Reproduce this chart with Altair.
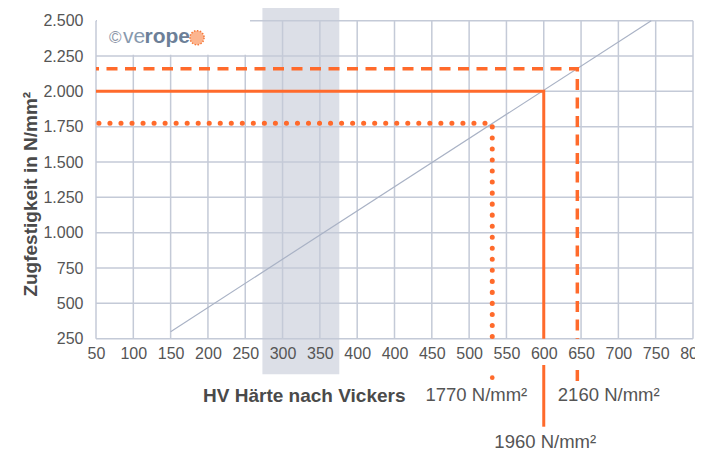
import altair as alt
import pandas as pd

# ---------------- data ----------------
# x axis positions (one step per gridline) and the labels printed under them
x_tick_pos = [50, 100, 150, 200, 250, 300, 350, 400, 450, 500, 550, 600, 650, 700, 750, 800, 850]
x_tick_labels = ["50", "100", "150", "200", "250", "300", "350", "400", "400",
                 "450", "500", "550", "600", "650", "700", "750", "800"]
y_ticks = [250, 500, 750, 1000, 1250, 1500, 1750, 2000, 2250, 2500]

# shaded hardness band (axis positions)
band_from = [273]
band_to = [376]

# conversion line HV -> tensile strength
diag_x = [150, 794]
diag_y = [300, 2500]

# rope grades
grade_names = ["1770 N/mm²", "1960 N/mm²", "2160 N/mm²"]
grade_strength = [1775, 2000, 2160]
grade_hv_pos = [581, 650, 695]

x_min, x_max = 50, 850
y_min, y_max = 250, 2500

# ---------------- styles ----------------
W, H = 597, 318
ORANGE = "#ff6a2b"
GRID = "#c4cad7"
BAND = "#dcdfe7"
DIAG = "#a9b2c5"
FONT = "Liberation Sans"

xs = alt.Scale(domain=[x_min, x_max], nice=False, zero=False)
ys = alt.Scale(domain=[y_min, y_max], nice=False, zero=False)

labels_js = "[" + ",".join("'%s'" % s for s in x_tick_labels) + "]"
x_axis = alt.Axis(
    values=x_tick_pos,
    labelExpr=f"{labels_js}[round(datum.value / 50) - 1]",
    grid=False, domain=False, ticks=False, tickSize=0,
    labelPadding=7, labelFontSize=16, labelColor="#555555", labelFont=FONT,
    labelFlush=False, labelOverlap=False,
    title="HV Härte nach Vickers", titleFont=FONT, titleFontSize=19,
    titleFontWeight="bold", titleColor="#4a4a4a",
    titleX=309, titleY=57, titleAlign="right", titleBaseline="middle",
    zindex=1,
)
y_axis = alt.Axis(
    values=y_ticks,
    labelExpr="replace(format(datum.value, ','), ',', '.')",
    grid=False, domain=False, ticks=False, tickSize=0,
    labelPadding=13, labelFontSize=16, labelColor="#555555", labelFont=FONT,
    labelFlush=False, labelOverlap=False,
    title="Zugfestigkeit in N/mm²", titleFont=FONT, titleFontSize=19,
    titleFontWeight="bold", titleColor="#4a4a4a",
    titleX=-66, titleY=173, titleAngle=270, titleAlign="center", titleBaseline="middle",
    zindex=1,
)


def X(f):
    return alt.X(f, type="quantitative", scale=xs, axis=x_axis)


def Y(f):
    return alt.Y(f, type="quantitative", scale=ys, axis=y_axis)


one = pd.DataFrame({"a": [0]})

band = alt.Chart(pd.DataFrame({"x": band_from, "x2": band_to})).mark_rect(color=BAND).encode(
    x=X("x"), x2="x2", y=alt.value(-12.7), y2=alt.value(353.6)
)

vgrid = alt.Chart(pd.DataFrame({"x": x_tick_pos, "lo": y_min, "hi": y_max})).mark_rule(
    color=GRID, strokeWidth=1.5
).encode(x=X("x"), y=Y("lo"), y2="hi")

hgrid = alt.Chart(pd.DataFrame({"y": y_ticks, "lo": x_min, "hi": x_max})).mark_rule(
    color=GRID, strokeWidth=1.5
).encode(y=Y("y"), x=X("lo"), x2="hi")

logo_box = alt.Chart(one).mark_rect(color="white").encode(
    x=alt.value(1), x2=alt.value(154), y=alt.value(-3), y2=alt.value(34)
)

diag = alt.Chart(pd.DataFrame({"x": diag_x, "y": diag_y})).mark_line(
    color=DIAG, strokeWidth=1.2
).encode(x=X("x"), y=Y("y"))


def path_df(i):
    return pd.DataFrame({
        "x": [x_min, grade_hv_pos[i], grade_hv_pos[i]],
        "y": [grade_strength[i], grade_strength[i], y_min],
        "o": [0, 1, 2],
    })


dotted = alt.Chart(path_df(0)).mark_line(
    color=ORANGE, strokeWidth=5, strokeDash=[0.1, 10.93], strokeCap="round",
    strokeDashOffset=8.15,
).encode(x=X("x"), y=Y("y"), order="o:Q")

solid = alt.Chart(path_df(1)).mark_line(color=ORANGE, strokeWidth=3).encode(
    x=X("x"), y=Y("y"), order="o:Q"
)

dashed = alt.Chart(path_df(2)).mark_line(
    color=ORANGE, strokeWidth=3.5, strokeDash=[11, 7.5], strokeDashOffset=8
).encode(x=X("x"), y=Y("y"), order="o:Q")

# pieces of the leader lines below the tick labels
dot_ext = alt.Chart(pd.DataFrame({"x": [grade_hv_pos[0]]})).mark_circle(
    color=ORANGE, size=22, opacity=1
).encode(x=X("x"), y=alt.value(357))

solid_ext = alt.Chart(pd.DataFrame({"x": [grade_hv_pos[1]]})).mark_rule(
    color=ORANGE, strokeWidth=3
).encode(x=X("x"), y=alt.value(344.3), y2=alt.value(406))

dash_ext = alt.Chart(pd.DataFrame({"x": [grade_hv_pos[2]]})).mark_rule(
    color=ORANGE, strokeWidth=3.5
).encode(x=X("x"), y=alt.value(349.3), y2=alt.value(360.3))


def grade_label(i, align, dx, ypix):
    return alt.Chart(pd.DataFrame({"x": [grade_hv_pos[i]], "t": [grade_names[i]]})).mark_text(
        align=align, baseline="middle", dx=dx, font=FONT, fontSize=18.5, color="#555555"
    ).encode(x=X("x"), y=alt.value(ypix), text="t:N")


lab1770 = grade_label(0, "right", 35, 374.3)
lab1960 = grade_label(1, "center", 1.5, 421)
lab2160 = grade_label(2, "left", -19.5, 374.3)

# logo
logo_c = alt.Chart(pd.DataFrame({"t": ["©"]})).mark_text(
    align="left", baseline="middle", font=FONT, fontSize=17, color="#8c96a8"
).encode(x=alt.value(13), y=alt.value(17), text="t:N")
logo_ve = alt.Chart(pd.DataFrame({"t": ["ve"]})).mark_text(
    align="left", baseline="middle", font=FONT, fontSize=21, color="#8799ae"
).encode(x=alt.value(27), y=alt.value(16.5), text="t:N")
logo_rope = alt.Chart(pd.DataFrame({"t": ["rope"]})).mark_text(
    align="left", baseline="middle", font=FONT, fontSize=21, fontWeight="bold", color="#6c7f98"
).encode(x=alt.value(48.5), y=alt.value(16.5), text="t:N")
logo_ball = alt.Chart(one).mark_point(
    shape="circle", size=200, filled=True, fill="#fcb58f", stroke="#f5793a", strokeWidth=1.5,
    strokeDash=[1.5, 1.5], opacity=1
).encode(x=alt.value(101), y=alt.value(17))

chart = alt.layer(
    band, vgrid, hgrid, logo_box, diag, dotted, solid, dashed,
    dot_ext, solid_ext, dash_ext, lab1770, lab1960, lab2160,
    logo_c, logo_ve, logo_rope, logo_ball,
).properties(
    width=W, height=H,
    padding={"left": 88, "top": 12.7, "right": 2, "bottom": 112.3},
    autosize=alt.AutoSizeParams(type="none"),
).configure_view(stroke=None)

chart.save("out.html", embed_options={"renderer": "svg", "actions": False})
